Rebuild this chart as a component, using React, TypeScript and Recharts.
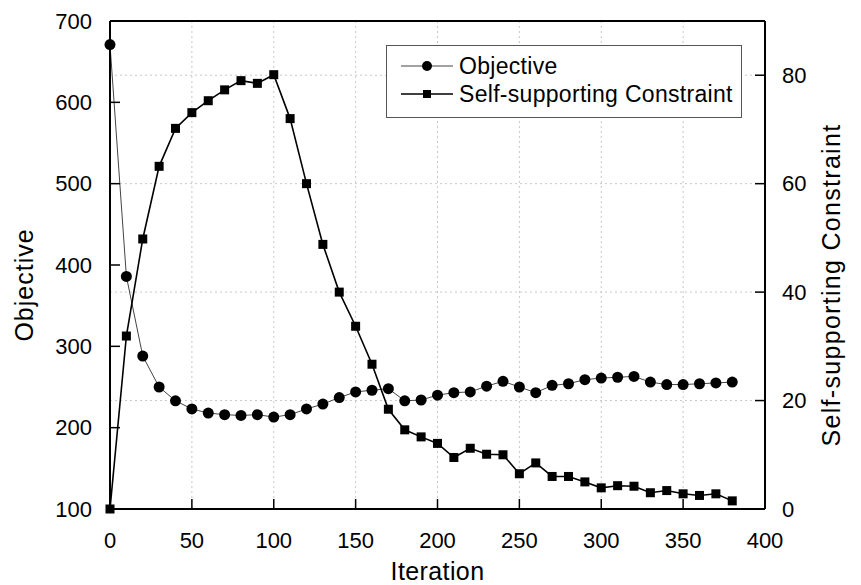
import React from "react";
import {
  LineChart,
  Line,
  XAxis,
  YAxis,
  CartesianGrid,
  Legend,
  ReferenceLine,
  Label,
} from "recharts";

const iterations = [
  0, 10, 20, 30, 40, 50, 60, 70, 80, 90, 100, 110, 120, 130, 140, 150, 160, 170, 180, 190,
  200, 210, 220, 230, 240, 250, 260, 270, 280, 290, 300, 310, 320, 330, 340, 350, 360, 370, 380,
];

const objective = [
  671, 386, 288, 250, 233, 223, 218, 216, 215, 216, 213, 216, 223, 229, 237, 244, 246, 248, 233, 234,
  240, 243, 244, 251, 257, 250, 243, 252, 254, 259, 261, 262, 263, 256, 253, 253, 254, 255, 256,
];

const constraint = [
  0, 31.9, 49.8, 63.2, 70.2, 73.1, 75.3, 77.3, 79.0, 78.5, 80.1, 72.0, 60.0, 48.8, 40.0, 33.7, 26.7, 18.4, 14.6, 13.3,
  12.1, 9.5, 11.2, 10.1, 10.0, 6.5, 8.5, 6.0, 6.0, 5.0, 3.9, 4.3, 4.2, 3.0, 3.4, 2.8, 2.5, 2.8, 1.5,
];

const xTicks = [0, 50, 100, 150, 200, 250, 300, 350, 400];
const leftTicks = [100, 200, 300, 400, 500, 600, 700];
const rightTicks = [0, 20, 40, 60, 80];

const data = iterations.map((it, i) => ({
  iteration: it,
  objective: objective[i],
  constraint: constraint[i],
}));

const FONT = '"Liberation Sans", Arial, sans-serif';
const tickStyle = { fontSize: 22, fill: "#000", fontFamily: FONT };

const CircleDot = (props: any) => {
  const { cx, cy, index } = props;
  if (cx == null || cy == null) return <g key={index} />;
  return <circle key={index} cx={cx} cy={cy} r={5.5} fill="#000" />;
};

const SquareDot = (props: any) => {
  const { cx, cy, index } = props;
  if (cx == null || cy == null) return <g key={index} />;
  return <rect key={index} x={cx - 4.5} y={cy - 4.5} width={9} height={9} fill="#000" />;
};

const axisTitle = (value: string, cx: number, rotate: number, spacing: number) => (props: any) => {
  const vb = props.viewBox || {};
  const cy = vb.y + vb.height / 2 + 20;
  return (
    <text
      x={cx}
      y={cy}
      transform={`rotate(${rotate}, ${cx}, ${cy})`}
      textAnchor="middle"
      dominantBaseline="central"
      fontSize={25}
      letterSpacing={spacing}
      fontFamily={FONT}
      fill="#000"
    >
      {value}
    </text>
  );
};

const LegendBox = () => {
  const rows = [
    { name: "Objective", marker: "circle", width: 1, color: "#444" },
    { name: "Self-supporting Constraint", marker: "square", width: 1.6, color: "#000" },
  ];
  return (
    <div
      style={{
        width: 354,
        height: 65,
        border: "1px solid #555",
        background: "#fff",
        paddingTop: 6,
        boxSizing: "content-box",
      }}
    >
      {rows.map((r) => (
        <div key={r.name} style={{ display: "flex", alignItems: "center", height: 28 }}>
          <svg width={52} height={14} style={{ marginLeft: 14, marginRight: 6 }}>
            <line x1={0} y1={7} x2={52} y2={7} stroke={r.color} strokeWidth={r.width} />
            {r.marker === "circle" ? (
              <circle cx={26} cy={7} r={5} fill="#000" />
            ) : (
              <rect x={22} y={3} width={8} height={8} fill="#000" />
            )}
          </svg>
          <span style={{ fontFamily: FONT, fontSize: 23, color: "#000", letterSpacing: 0.3 }}>
            {r.name}
          </span>
        </div>
      ))}
    </div>
  );
};

export default function App() {
  return (
    <div style={{ position: "absolute", left: 0, top: 0, width: 861, height: 585, background: "#fff" }}>
      <LineChart
        width={861}
        height={585}
        data={data}
        margin={{ top: 21, right: 0, bottom: 0, left: 0 }}
      >
        <CartesianGrid
          yAxisId="right"
          stroke="#c8c8c8"
          strokeDasharray="2 3"
          horizontalValues={[20, 40, 60, 80]}
          verticalValues={[50, 100, 150, 200, 250, 300, 350]}
        />
        <XAxis
          dataKey="iteration"
          type="number"
          domain={[0, 400]}
          ticks={xTicks}
          interval={0}
          height={76}
          tickSize={-10}
          tickMargin={33}
          tick={tickStyle}
          axisLine={{ stroke: "#000", strokeWidth: 2 }}
          tickLine={{ stroke: "#000", strokeWidth: 1.5 }}
        >
          <Label
            position="insideBottom"
            content={(props: any) => {
              const vb = props.viewBox || {};
              return (
                <text
                  x={vb.x + vb.width / 2}
                  y={580}
                  textAnchor="middle"
                  fontSize={25}
                  letterSpacing={0.4}
                  fontFamily={FONT}
                  fill="#000"
                >
                  Iteration
                </text>
              );
            }}
          />
        </XAxis>
        <YAxis
          yAxisId="left"
          orientation="left"
          type="number"
          domain={[100, 700]}
          ticks={leftTicks}
          interval={0}
          width={110}
          tickSize={-10}
          tickMargin={28}
          tick={tickStyle}
          axisLine={{ stroke: "#000", strokeWidth: 2 }}
          tickLine={{ stroke: "#000", strokeWidth: 1.5 }}
        >
          <Label content={axisTitle("Objective", 24, -90, 1)} />
        </YAxis>
        <YAxis
          yAxisId="right"
          orientation="right"
          type="number"
          domain={[0, 90]}
          ticks={rightTicks}
          interval={0}
          width={96}
          tickSize={-10}
          tickMargin={27}
          tick={tickStyle}
          axisLine={{ stroke: "#000", strokeWidth: 2 }}
          tickLine={{ stroke: "#000", strokeWidth: 1.5 }}
        >
          <Label content={axisTitle("Self-supporting Constraint", 831, -90, 1.3)} />
        </YAxis>
        <ReferenceLine yAxisId="left" y={700} stroke="#000" strokeWidth={2} />
        <Legend
          layout="horizontal"
          verticalAlign="middle"
          align="center"
          content={() => <LegendBox />}
          wrapperStyle={{ position: "absolute", left: 386, top: 45, width: "auto" }}
        />
        <Line
          yAxisId="left"
          type="linear"
          dataKey="objective"
          name="Objective"
          stroke="#444"
          strokeWidth={1}
          dot={CircleDot}
          activeDot={false}
          isAnimationActive={false}
        />
        <Line
          yAxisId="right"
          type="linear"
          dataKey="constraint"
          name="Self-supporting Constraint"
          stroke="#000"
          strokeWidth={1.6}
          dot={SquareDot}
          activeDot={false}
          isAnimationActive={false}
        />
      </LineChart>
    </div>
  );
}
